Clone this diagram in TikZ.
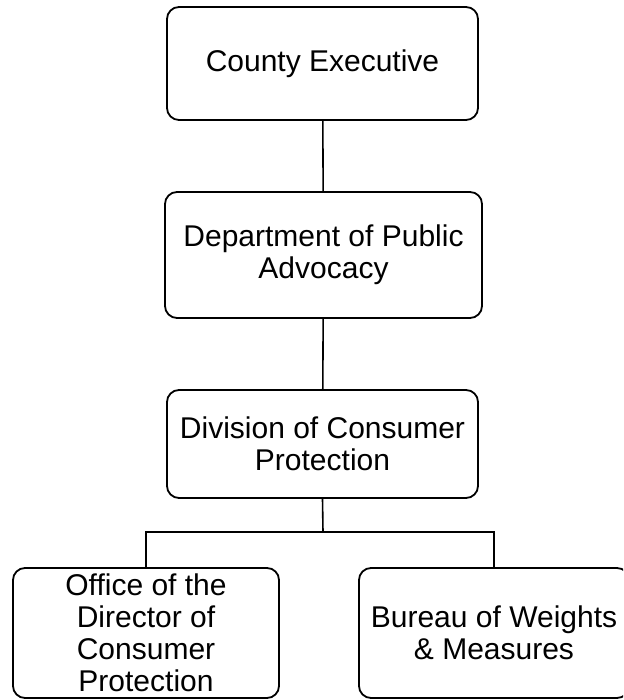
\documentclass[tikz,border=0pt]{standalone}
\usepackage{fontspec}
\setmainfont{Liberation Sans}
\begin{document}
\begin{tikzpicture}[x=1pt,y=1pt,
  orgbox/.style={draw, line width=1.8pt, rounded corners=12pt, align=center,
    font=\fontsize{30}{32}\selectfont, inner sep=0pt},
  link/.style={line width=1.6pt}]
\useasboundingbox (0,0) rectangle (623,700);
\clip (0,0) rectangle (623,700);
% hierarchy boxes (y measured upward from the bottom edge)
\node[orgbox, minimum width=311pt, minimum height=113pt] (ce)  at (322.5,636.5) {County Executive};
\node[orgbox, minimum width=317pt, minimum height=126pt] (dpa) at (323.5,445) {Department of Public\\Advocacy};
\node[orgbox, minimum width=311pt, minimum height=108pt] (dcp) at (322.5,256) {Division of Consumer\\Protection};
\node[orgbox, minimum width=266pt, minimum height=130pt] (odc) at (146,67) {Office of the\\Director of\\Consumer\\Protection};
\node[orgbox, minimum width=270pt, minimum height=130pt] (bwm) at (494,67) {Bureau of Weights\\\& Measures};
% connectors
\coordinate (bar) at (323,168);
\draw[link] (ce) -- (dpa);
\draw[link] (dpa) -- (dcp);
\draw[link] (dcp.south) -- (bar);
\draw[link] (bar) -| (odc.north);
\draw[link] (bar) -| (bwm.north);
\end{tikzpicture}
\end{document}
